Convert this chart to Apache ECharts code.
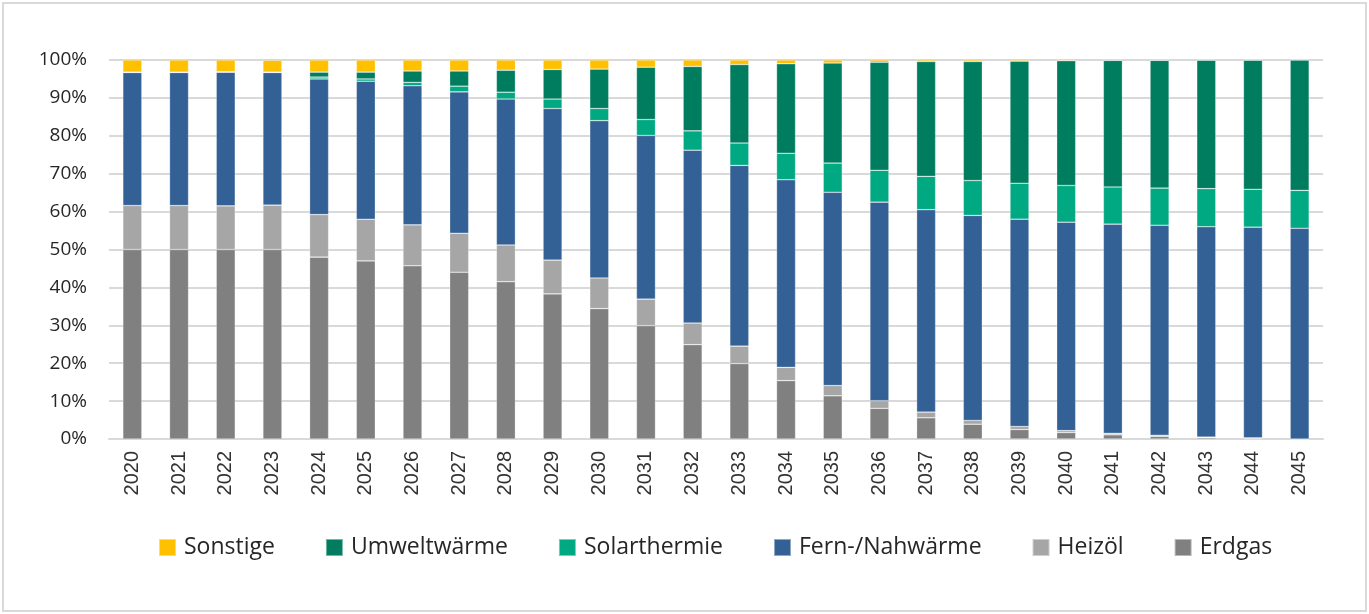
<!DOCTYPE html>
<html><head><meta charset="utf-8">
<script src="https://cdn.jsdelivr.net/npm/echarts@6/dist/echarts.min.js"></script>
<style>
html,body{margin:0;padding:0;background:#fff;}
#frame{position:absolute;left:2px;top:2px;width:1361px;height:606px;border:2px solid #d9d9d9;}
#c{position:absolute;left:0;top:0;width:1369px;height:614px;}
</style></head><body>
<div id="frame"></div>
<div id="c"></div>
<script>
const years = ['2020','2021','2022','2023','2024','2025','2026','2027','2028','2029','2030','2031','2032','2033','2034','2035','2036','2037','2038','2039','2040','2041','2042','2043','2044','2045'];
const erdgas = [50.0,50.0,50.0,50.0,48.0,47.0,45.7,44.0,41.5,38.3,34.4,29.9,24.9,19.9,15.4,11.4,8.1,5.6,3.9,2.5,1.7,1.1,0.7,0.35,0.1,0];
const heizoel = [11.6,11.6,11.5,11.7,11.2,11.0,10.8,10.3,9.7,8.9,8.1,7.0,5.7,4.6,3.5,2.7,2.0,1.5,1.0,0.8,0.5,0.4,0.3,0.15,0.2,0];
const fern = [35.1,35.1,35.3,35.0,35.8,36.4,36.7,37.3,38.5,40.0,41.5,43.2,45.6,47.7,49.5,51.0,52.4,53.4,54.1,54.7,55.0,55.2,55.4,55.5,55.6,55.6];
const solar = [0,0,0,0,0.5,0.6,0.9,1.5,1.8,2.5,3.2,4.2,5.1,5.9,7.0,7.7,8.4,8.8,9.2,9.5,9.7,9.8,9.8,10.05,10.0,10.0];
const umwelt = [0.1,0.1,0.1,0.1,1.3,1.8,3.0,4.0,5.8,7.8,10.4,13.8,17.0,20.7,23.6,26.4,28.5,30.3,31.4,32.2,32.9,33.4,33.7,33.9,34.05,34.4];
const sonstige = [3.2,3.2,3.1,3.1,3.2,3.2,2.9,2.9,2.7,2.5,2.4,1.9,1.7,1.2,1.0,0.8,0.6,0.4,0.4,0.3,0.2,0.1,0.1,0.05,0.05,0];
const yTicks = ['0%','10%','20%','30%','40%','50%','60%','70%','80%','90%','100%'];

const font = '"Open Sans", Lato, sans-serif';
const textColor = '#262626';
function s(name, data, color){
  return {name, type:'bar', stack:'a', data, barWidth:19,
    itemStyle:{color, borderColor:'rgba(255,255,255,0.45)', borderWidth:0.6},
    emphasis:{disabled:true}};
}
const chart = echarts.init(document.getElementById('c'));
chart.setOption({
  animation:false,
  grid:{left:109, right:46, top:60, bottom:175},
  legend:{
    data:['Sonstige','Umweltwärme','Solarthermie','Fern-/Nahwärme','Heizöl','Erdgas'],
    top:531, left:153, itemWidth:17, itemHeight:17, itemGap:50, icon:'rect',
    textStyle:{fontFamily:font, fontSize:23, color:textColor, padding:[0,0,0,3]}
  },
  xAxis:{type:'category', data:years,
    axisLine:{lineStyle:{color:'#d9d9d9', width:2}}, axisTick:{show:false},
    axisLabel:{rotate:90, fontFamily:'"Liberation Sans", Arial, sans-serif', fontSize:20, color:'#333', margin:12}},
  yAxis:{type:'value', min:0, max:100, interval:10,
    axisLine:{show:false}, axisTick:{show:false},
    splitLine:{lineStyle:{color:'#d9d9d9', width:2}},
    axisLabel:{fontFamily:font, fontSize:19, color:textColor, margin:22,
      formatter:(v)=>yTicks[Math.round(v/10)]}},
  series:[
    s('Erdgas', erdgas, '#808080'),
    s('Heizöl', heizoel, '#a6a6a6'),
    s('Fern-/Nahwärme', fern, '#336195'),
    s('Solarthermie', solar, '#00a982'),
    s('Umweltwärme', umwelt, '#007d5f'),
    s('Sonstige', sonstige, '#ffc000')
  ]
});
</script>
</body></html>
